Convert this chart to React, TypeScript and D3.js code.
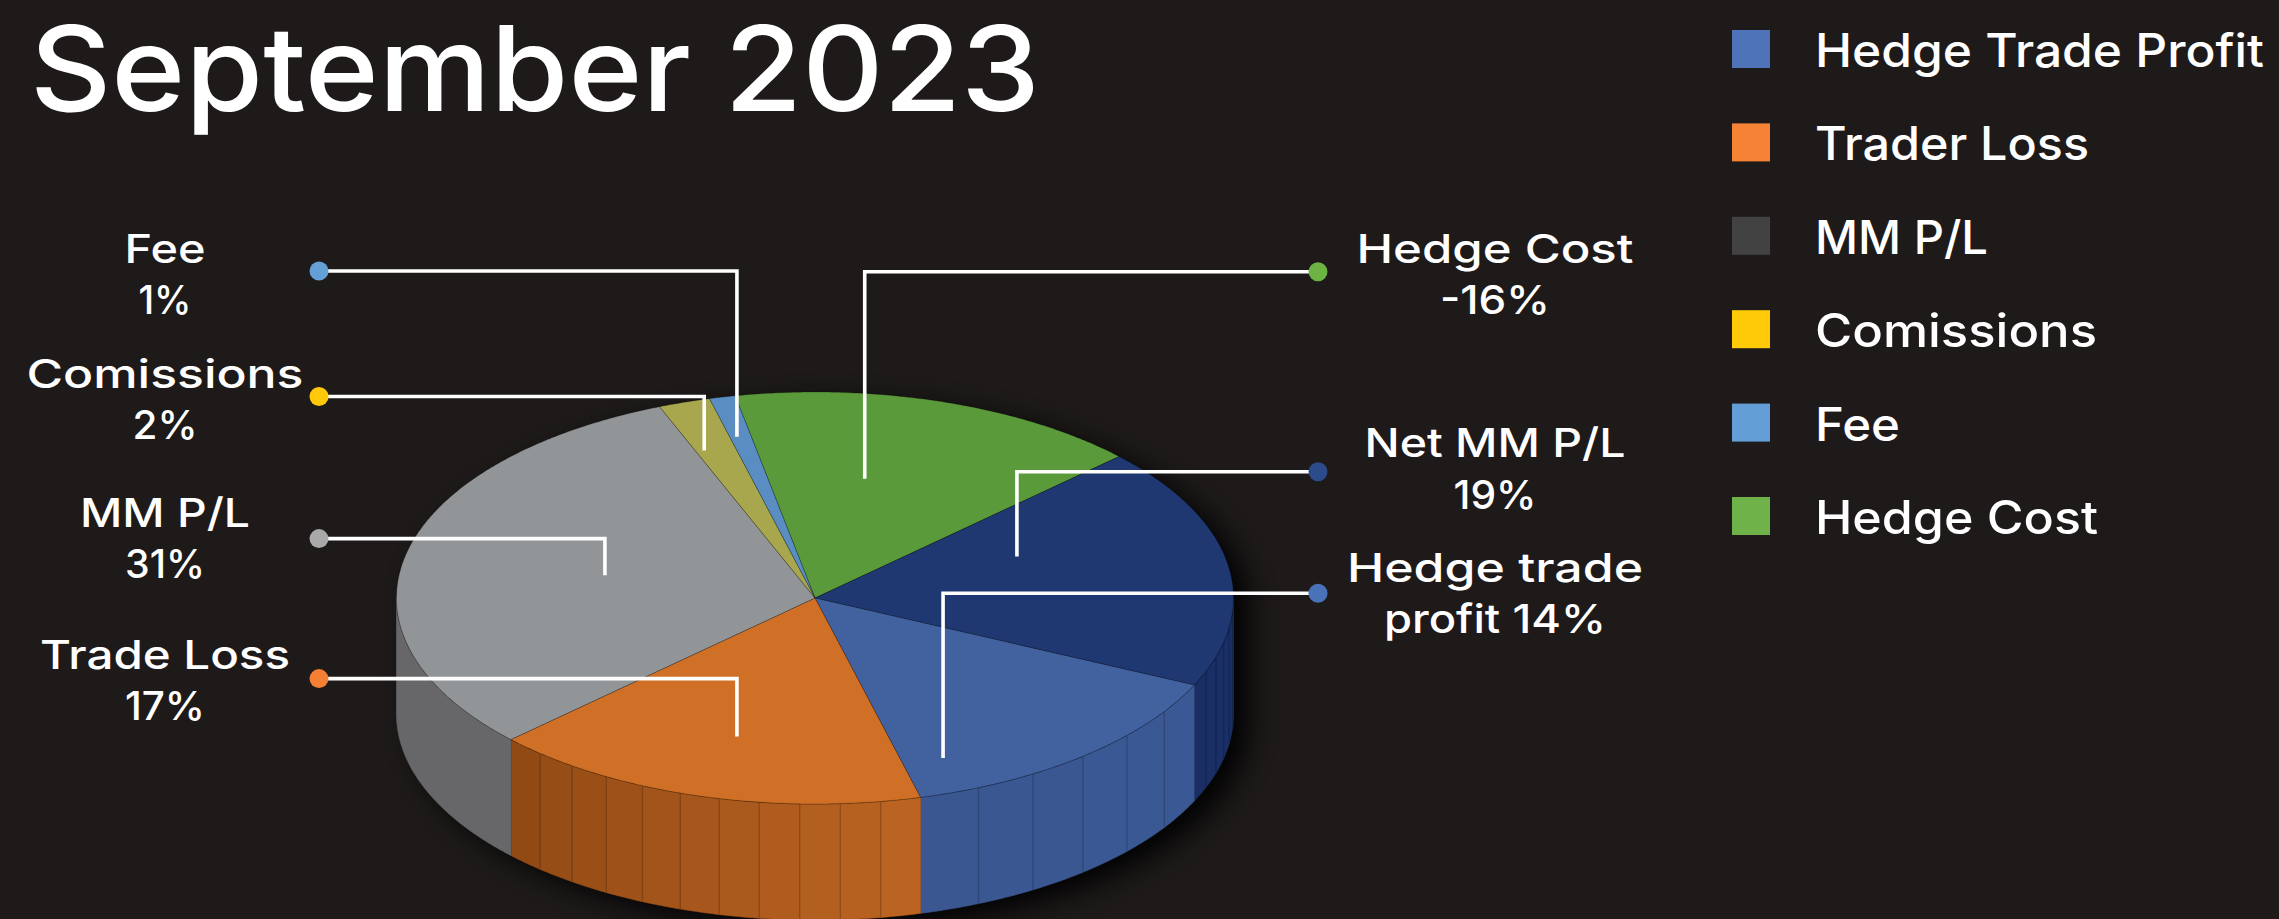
import React, { useEffect } from "react";
import * as d3 from "d3";

// ---------- data ----------
const title = "September 2023";
const categories = ["Hedge Cost", "Net MM P/L", "Hedge trade profit", "Trade Loss", "MM P/L", "Comissions", "Fee"];
const values = [16, 19, 14, 17, 31, 2, 1];
const labelTexts = [
  ["Hedge Cost", "-16%"],
  ["Net MM P/L", "19%"],
  ["Hedge trade", "profit 14%"],
  ["Trade Loss", "17%"],
  ["MM P/L", "31%"],
  ["Comissions", "2%"],
  ["Fee", "1%"],
];
const legendLabels = ["Hedge Trade Profit", "Trader Loss", "MM P/L", "Comissions", "Fee", "Hedge Cost"];

// ---------- styles ----------
const topColors = ["#5b9a3a", "#1f3871", "#42629f", "#d07027", "#919597", "#a9a74e", "#5a8ec3"];
const sideColorsRight = ["#4a7f2f", "#1b3068", "#3a5893", "#bd6523", "#676769", "#8a8940", "#4a78a6"];
const sideColorsLeft = ["#4a7f2f", "#1a2e64", "#3a5792", "#904914", "#676769", "#8a8940", "#4a78a6"];
const facetStepDeg = [0, 4.5, 9, 5.5, 0, 0, 0];
const dotColors = ["#6db344", "#2b4b8a", "#4a72b8", "#f58034", "#a9a9a9", "#ffc90a", "#649fd6"];
const legendColors = ["#4f73b9", "#f58235", "#424242", "#ffcb08", "#649ed7", "#6fb24a"];

// ---------- layout ----------
const W = 2279, H = 919;
const CX = 815, CY = 598, RX = 418.5, RY = 206, DEPTH = 116;
const START_DEG = -11;
const FONT = "Inter, 'Open Sans', sans-serif";

// label placement: side, first baseline, dot y, leader end (pie angle, radius fraction)
const labelLayout = [
  { side: "right", base: 262.7, dotY: 271.7, endDeg: 11.6, endR: 0.591 },
  { side: "right", base: 457.3, dotY: 471.7, endDeg: 67.3, endR: 0.523 },
  { side: "right", base: 581.7, dotY: 593.3, endDeg: 158.5, endR: 0.835 },
  { side: "left", base: 668.6, dotY: 678.6, endDeg: 195.5, endR: 0.698 },
  { side: "left", base: 526.8, dotY: 538.6, endDeg: 282.4, endR: 0.514 },
  { side: "left", base: 387.5, dotY: 396.5, endDeg: 339.7, endR: 0.763 },
  { side: "left", base: 262.5, dotY: 271, endDeg: 346.6, endR: 0.805 },
];
const textWidths: Record<string, number> = {
  "Fee": 81, "1%": 53, "Comissions": 277, "2%": 65, "MM P/L": 170, "31%": 80,
  "Trade Loss": 250, "17%": 80, "Hedge Cost": 277, "-16%": 110, "Net MM P/L": 261,
  "19%": 83, "Hedge trade": 296, "profit 14%": 222,
};
const legendWidths = [449, 274, 173, 282, 85, 283];

const rad = (d: number) => (d * Math.PI) / 180;

function proj(a: number, r = 1, dz = 0): [number, number] {
  return [CX + RX * r * Math.sin(a), CY - RY * r * Math.cos(a) + dz];
}
function arcPts(a0: number, a1: number, dz: number): [number, number][] {
  const n = Math.max(2, Math.ceil(Math.abs(a1 - a0) / rad(0.5)));
  return d3.range(n + 1).map((i) => proj(a0 + ((a1 - a0) * i) / n, 1, dz));
}
const line = d3.line<[number, number]>();

export default function App() {
  useEffect(() => {
    document.body.style.margin = "0";
    document.body.style.overflow = "hidden";
    document.body.style.background = "#1e1a1a";
  }, []);

  const pie = d3
    .pie<number>()
    .sort(null)
    .value((d) => d)
    .startAngle(rad(START_DEG))
    .endAngle(rad(START_DEG + 360));
  const arcs = pie(values);

  // silhouette for shadow
  const silhouette =
    line([...arcPts(-Math.PI / 2, Math.PI / 2, 0), ...arcPts(Math.PI / 2, (3 * Math.PI) / 2, DEPTH)]) + "Z";

  // side facets
  const sides: JSX.Element[] = [];
  arcs.forEach((a, i) => {
    const s = Math.max(a.startAngle, Math.PI / 2);
    const e = Math.min(a.endAngle, (3 * Math.PI) / 2);
    if (s >= e) return;
    const step = facetStepDeg[i] > 0 ? rad(facetStepDeg[i]) : e - s;
    const n = Math.max(1, Math.round((e - s) / step));
    const col = d3.interpolateRgb(sideColorsRight[i], sideColorsLeft[i]);
    for (let k = 0; k < n; k++) {
      const f0 = s + ((e - s) * k) / n;
      const f1 = s + ((e - s) * (k + 1)) / n;
      const fill = col(n === 1 ? 0.5 : (k + 0.5) / n);
      const pts = [...arcPts(f0, f1, 0), ...arcPts(f0, f1, DEPTH).reverse()];
      sides.push(<path key={`s${i}-${k}`} d={line(pts) + "Z"} fill={fill} stroke={fill} strokeWidth={0.6} />);
      if (k > 0) {
        const [x0, y0] = proj(f0, 1, 0);
        const [x1, y1] = proj(f0, 1, DEPTH);
        sides.push(
          <line key={`l${i}-${k}`} x1={x0} y1={y0} x2={x1} y2={y1} stroke={d3.color(fill)!.darker(0.6).toString()} strokeWidth={1.2} />
        );
      }
    }
    const [bx0, by0] = proj(e, 1, 0);
    const [bx1, by1] = proj(e, 1, DEPTH);
    if (e < (3 * Math.PI) / 2)
      sides.push(<line key={`b${i}`} x1={bx0} y1={by0} x2={bx1} y2={by1} stroke="rgba(0,0,0,0.35)" strokeWidth={1} />);
  });

  const tops = arcs.map((a, i) => (
    <path
      key={`t${i}`}
      d={line([[CX, CY], ...arcPts(a.startAngle, a.endAngle, 0)]) + "Z"}
      fill={topColors[i]}
      stroke="rgba(0,0,0,0.28)"
      strokeWidth={0.8}
      strokeLinejoin="round"
    />
  ));

  const legendY = d3.scaleLinear().domain([0, 5]).range([49, 516]);

  return (
    <svg width={W} height={H} style={{ display: "block", background: "#1e1a1a" }} fontFamily={FONT}>
      <defs>
        <filter id="shadow" x="-20%" y="-20%" width="140%" height="140%">
          <feGaussianBlur stdDeviation="14" />
        </filter>
      </defs>
      <rect width={W} height={H} fill="#1e1a1a" />

      {/* title */}
      <text x={30} y={111} fill="#fff" fontSize={118} fontWeight={450} textLength={1010} lengthAdjust="spacingAndGlyphs">
        {title}
      </text>

      {/* pie */}
      <path d={silhouette} fill="#050303" opacity={0.9} filter="url(#shadow)" transform="translate(16,10)" />
      <g>{sides}</g>
      <path d={line(arcPts(Math.PI / 2, (3 * Math.PI) / 2, 0))!} fill="none" stroke="rgba(0,0,0,0.25)" strokeWidth={1} />
      <g>{tops}</g>

      {/* leaders & labels */}
      {labelLayout.map((L, i) => {
        const dotX = L.side === "left" ? 319 : 1318;
        const cx = L.side === "left" ? 165 : 1495;
        const [ex, ey] = proj(rad(L.endDeg), L.endR, 0);
        const pts: [number, number][] = [[dotX, L.dotY], [ex, L.dotY], [ex, ey]];
        return (
          <g key={`lab${i}`}>
            <path d={line(pts)!} fill="none" stroke="#ffffff" strokeWidth={3.6} strokeLinejoin="miter" />
            <circle cx={dotX} cy={L.dotY} r={9.5} fill={dotColors[i]} />
            {labelTexts[i].map((t, j) => (
              <text
                key={j}
                x={cx}
                y={L.base + j * 51.3}
                textAnchor="middle"
                fill="#fff"
                fontSize={40}
                fontWeight={500}
                textLength={textWidths[t]}
                lengthAdjust="spacingAndGlyphs"
              >
                {t}
              </text>
            ))}
          </g>
        );
      })}

      {/* legend */}
      {legendLabels.map((l, i) => (
        <g key={`lg${i}`}>
          <rect x={1732} y={legendY(i) - 19} width={38} height={38} fill={legendColors[i]} />
          <text
            x={1815}
            y={legendY(i) + 18}
            fill="#fff"
            fontSize={46}
            fontWeight={500}
            textLength={legendWidths[i]}
            lengthAdjust="spacingAndGlyphs"
          >
            {l}
          </text>
        </g>
      ))}
    </svg>
  );
}
